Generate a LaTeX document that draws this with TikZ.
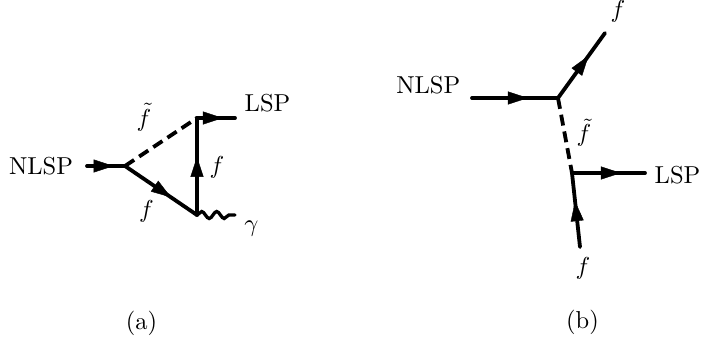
\documentclass[tikz,border=0pt]{standalone}
\usepackage{graphicx}
\usetikzlibrary{arrows.meta,decorations.markings,decorations.pathmorphing}
\tikzset{
  lbl/.style={inner sep=0pt, outer sep=0pt},
  prop/.style={line width=3.8pt, line cap=round, line join=round},
  arr/.style={postaction={decorate}, decoration={markings, mark=at position #1 with {\arrow{Triangle[length=20pt,width=13pt,line width=0.4pt]}}}},
  scal/.style={line width=3.8pt, dash pattern=on 11pt off 6pt},
  phot/.style={line width=3.3pt, line cap=round, decorate, decoration={snake, segment length=15pt, amplitude=3.5pt}},
}
\newcommand{\bt}[1]{\scalebox{2.45}{#1}}
\begin{document}
\begin{tikzpicture}[x=1pt,y=-1pt]
\useasboundingbox (0,0) rectangle (701,341);
% ---------- (a) ----------
\coordinate (a0) at (87,166);
\coordinate (A) at (125,166);
\coordinate (B) at (197,118);
\coordinate (C) at (197,215);
\coordinate (aL) at (235,118);
\coordinate (aG) at (235,215);
\node[lbl] (nlspa) at (41,166) {\bt{NLSP}};
\node[lbl] (lspa) at (267.5,103.5) {\bt{LSP}};
\node[lbl] (fta) at (144,117) {\bt{$\tilde f$}};
\node[lbl] (f1a) at (146.5,211.5) {\bt{$f$}};
\node[lbl] (f2a) at (217,167.5) {\bt{$f$}};
\node[lbl] (ga) at (251.5,229) {\bt{$\gamma$}};
\node[lbl] (capa) at (141.5,323.5) {\bt{(a)}};
\draw[prop,arr=0.7] (a0) -- (A);
\draw[scal] (A) -- (B);
\draw[prop,arr=0.64] (A) -- (C);
\draw[prop,arr=0.6] (C) -- (B);
\draw[prop,arr=0.68] (B) -- (aL);
\draw[phot] (C) -- (aG);
% ---------- (b) ----------
\coordinate (b0) at (472,98);
\coordinate (D) at (558,98);
\coordinate (bT) at (605,33);
\coordinate (E) at (572,173);
\coordinate (bL) at (645,173);
\coordinate (bB) at (580,247);
\node[lbl] (nlspb) at (428.3,85) {\bt{NLSP}};
\node[lbl] (ftop) at (618,11.5) {\bt{$f$}};
\node[lbl] (ftb) at (584,132.5) {\bt{$\tilde f$}};
\node[lbl] (lspb) at (677.5,175) {\bt{LSP}};
\node[lbl] (fbot) at (583,268) {\bt{$f$}};
\node[lbl] (capb) at (582.5,322) {\bt{(b)}};
\draw[prop,arr=0.65] (b0) -- (D);
\draw[prop,arr=0.65] (D) -- (bT);
\draw[scal] (D) -- (E);
\draw[prop,arr=0.67] (E) -- (bL);
\draw[prop,arr=0.62] (bB) -- (E);
\end{tikzpicture}
\end{document}
